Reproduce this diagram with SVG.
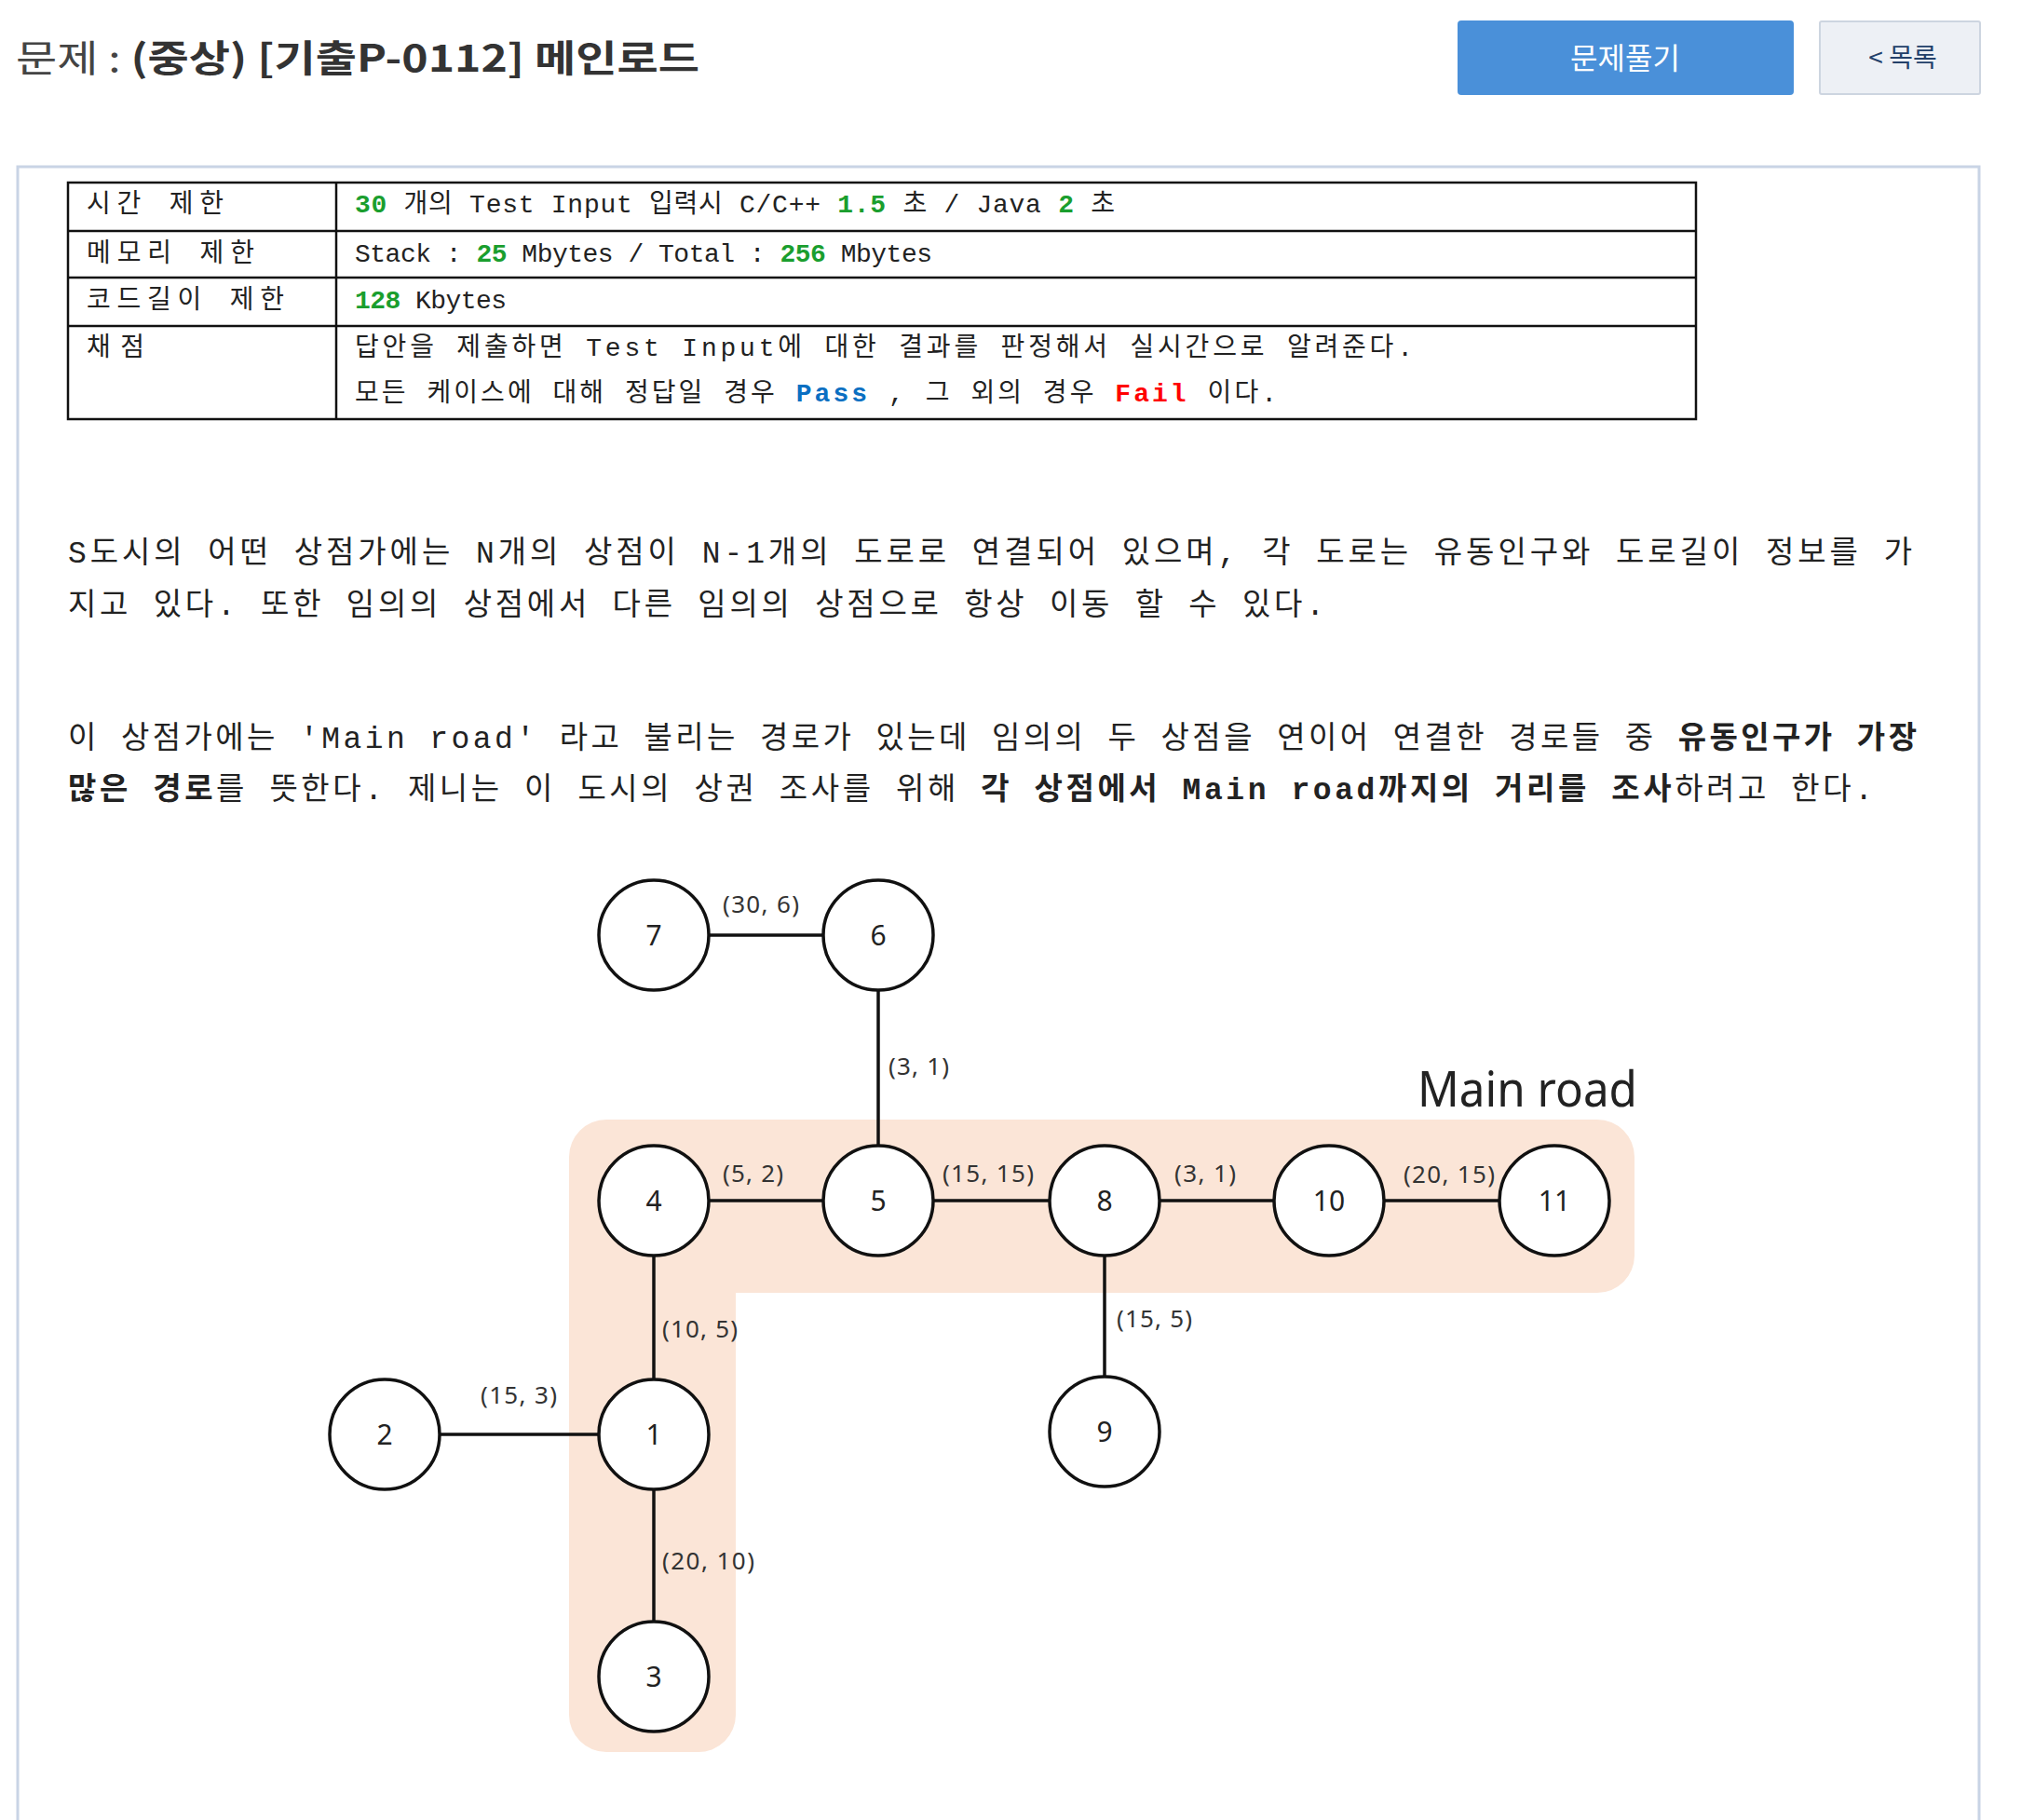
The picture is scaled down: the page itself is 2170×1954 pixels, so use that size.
<svg xmlns="http://www.w3.org/2000/svg" width="2170" height="1954" viewBox="0 0 2170 1954">
<style>
.kr{font-family:'Noto Sans CJK KR',sans-serif}
.mono{font-family:'Liberation Mono','Noto Sans CJK KR',monospace;font-size:28px;fill:#222}
.para{font-family:'Liberation Mono','Noto Sans CJK KR',monospace;font-size:33px;fill:#222}
.b{font-weight:bold}
.g{fill:#1a9e2e;font-weight:bold}
.tbl{fill:none;stroke:#111;stroke-width:2.5}
.node circle{fill:#fff;stroke:#111;stroke-width:3.5}
.node text{font-family:'Noto Sans',sans-serif;font-size:30px;fill:#222;text-anchor:middle}
.edge line{stroke:#111;stroke-width:3.5}
.elab{font-family:'Noto Sans',sans-serif;font-size:26px;fill:#333}
</style>
<rect width="2170" height="1954" fill="#fff"/>

<g id="header">
<text class="kr" x="17" y="77" font-size="40" textLength="734" lengthAdjust="spacingAndGlyphs"><tspan fill="#444">문제 : </tspan><tspan fill="#333" font-weight="bold">(중상) [기출P-0112] 메인로드</tspan></text>
<g id="btn-solve">
<rect x="1565" y="22" width="361" height="80" rx="4" fill="#4a90d9"/>
<text class="kr" x="1745" y="74" font-size="32" fill="#fff" text-anchor="middle">문제풀기</text>
</g>
<g id="btn-list">
<rect x="1954" y="23" width="172" height="78" rx="2" fill="#edf0f5" stroke="#cdd5e0" stroke-width="2"/>
<text class="kr" x="2043" y="72" font-size="28" fill="#23406a" text-anchor="middle">&lt; 목록</text>
</g>
</g>

<path d="M19 1954 V179 H2125 V1954" fill="none" stroke="#c9d4e5" stroke-width="3"/>

<g id="limits-table">
<rect class="tbl" x="73" y="196" width="1748" height="254"/>
<line class="tbl" x1="73" y1="248" x2="1821" y2="248"/>
<line class="tbl" x1="73" y1="298" x2="1821" y2="298"/>
<line class="tbl" x1="73" y1="350" x2="1821" y2="350"/>
<line class="tbl" x1="361" y1="196" x2="361" y2="450"/>
<text class="mono" x="93" y="228" textLength="147">시간 제한</text>
<text class="mono" x="93" y="281" textLength="180">메모리 제한</text>
<text class="mono" x="93" y="331" textLength="212">코드길이 제한</text>
<text class="mono" x="93" y="382" textLength="62">채점</text>
<text class="mono" x="381" y="228" textLength="816"><tspan class="g">30</tspan> 개의 Test Input 입력시 C/C++ <tspan class="g">1.5</tspan> 초 / Java <tspan class="g">2</tspan> 초</text>
<text class="mono" x="381" y="281" textLength="620">Stack : <tspan class="g">25</tspan> Mbytes / Total : <tspan class="g">256</tspan> Mbytes</text>
<text class="mono" x="381" y="331" textLength="163"><tspan class="g">128</tspan> Kbytes</text>
<text class="mono" x="381" y="382" textLength="1136">답안을 제출하면 Test Input에 대한 결과를 판정해서 실시간으로 알려준다.</text>
<text class="mono" x="381" y="431" textLength="990">모든 케이스에 대해 정답일 경우 <tspan font-weight="bold" fill="#0a6fc2">Pass</tspan> , 그 외의 경우 <tspan font-weight="bold" fill="#ff0000">Fail</tspan> 이다.</text>
</g>

<g id="description">
<text class="para" x="73" y="604" textLength="1980">S도시의 어떤 상점가에는 N개의 상점이 N-1개의 도로로 연결되어 있으며, 각 도로는 유동인구와 도로길이 정보를 가</text>
<text class="para" x="73" y="660" textLength="1349">지고 있다. 또한 임의의 상점에서 다른 임의의 상점으로 항상 이동 할 수 있다.</text>
<text class="para" x="73" y="803" textLength="1985">이 상점가에는 'Main road' 라고 불리는 경로가 있는데 임의의 두 상점을 연이어 연결한 경로들 중 <tspan class="b">유동인구가 가장</tspan></text>
<text class="para" x="73" y="858" textLength="1938"><tspan class="b">많은 경로</tspan>를 뜻한다. 제니는 이 도시의 상권 조사를 위해 <tspan class="b">각 상점에서 Main road까지의 거리를 조사</tspan>하려고 한다.</text>
</g>

<g id="main-road-highlight">
<path d="M651 1202 H1715 A40 40 0 0 1 1755 1242 V1348 A40 40 0 0 1 1715 1388 H790 V1841 A40 40 0 0 1 750 1881 H651 A40 40 0 0 1 611 1841 V1242 A40 40 0 0 1 651 1202 Z" fill="#fbe5d7"/>
<text x="1522" y="1188" font-family="'Noto Sans',sans-serif" font-size="53" fill="#222" textLength="236" lengthAdjust="spacingAndGlyphs">Main road</text>
</g>

<g id="connectors" class="edge">
<line x1="702" y1="1004" x2="943" y2="1004"/>
<line x1="943" y1="1004" x2="943" y2="1289"/>
<line x1="702" y1="1289" x2="943" y2="1289"/>
<line x1="943" y1="1289" x2="1186" y2="1289"/>
<line x1="1186" y1="1289" x2="1427" y2="1289"/>
<line x1="1427" y1="1289" x2="1669" y2="1289"/>
<line x1="702" y1="1289" x2="702" y2="1540"/>
<line x1="1186" y1="1289" x2="1186" y2="1537"/>
<line x1="413" y1="1540" x2="702" y2="1540"/>
<line x1="702" y1="1540" x2="702" y2="1800"/>
<text class="elab" x="776" y="980" textLength="82">(30, 6)</text>
<text class="elab" x="954" y="1154" textLength="65">(3, 1)</text>
<text class="elab" x="776" y="1269" textLength="65">(5, 2)</text>
<text class="elab" x="1012" y="1269" textLength="98">(15, 15)</text>
<text class="elab" x="1261" y="1269" textLength="66">(3, 1)</text>
<text class="elab" x="1507" y="1270" textLength="98">(20, 15)</text>
<text class="elab" x="711" y="1436" textLength="81">(10, 5)</text>
<text class="elab" x="1199" y="1425" textLength="81">(15, 5)</text>
<text class="elab" x="516" y="1507" textLength="82">(15, 3)</text>
<text class="elab" x="711" y="1685" textLength="99">(20, 10)</text>
</g>

<g id="node-7" class="node"><circle cx="702" cy="1004" r="59"/><text x="702" y="1015">7</text></g>
<g id="node-6" class="node"><circle cx="943" cy="1004" r="59"/><text x="943" y="1015">6</text></g>
<g id="node-4" class="node"><circle cx="702" cy="1289" r="59"/><text x="702" y="1300">4</text></g>
<g id="node-5" class="node"><circle cx="943" cy="1289" r="59"/><text x="943" y="1300">5</text></g>
<g id="node-8" class="node"><circle cx="1186" cy="1289" r="59"/><text x="1186" y="1300">8</text></g>
<g id="node-10" class="node"><circle cx="1427" cy="1289" r="59"/><text x="1427" y="1300">10</text></g>
<g id="node-11" class="node"><circle cx="1669" cy="1289" r="59"/><text x="1669" y="1300">11</text></g>
<g id="node-1" class="node"><circle cx="702" cy="1540" r="59"/><text x="702" y="1551">1</text></g>
<g id="node-2" class="node"><circle cx="413" cy="1540" r="59"/><text x="413" y="1551">2</text></g>
<g id="node-9" class="node"><circle cx="1186" cy="1537" r="59"/><text x="1186" y="1548">9</text></g>
<g id="node-3" class="node"><circle cx="702" cy="1800" r="59"/><text x="702" y="1811">3</text></g>
</svg>
